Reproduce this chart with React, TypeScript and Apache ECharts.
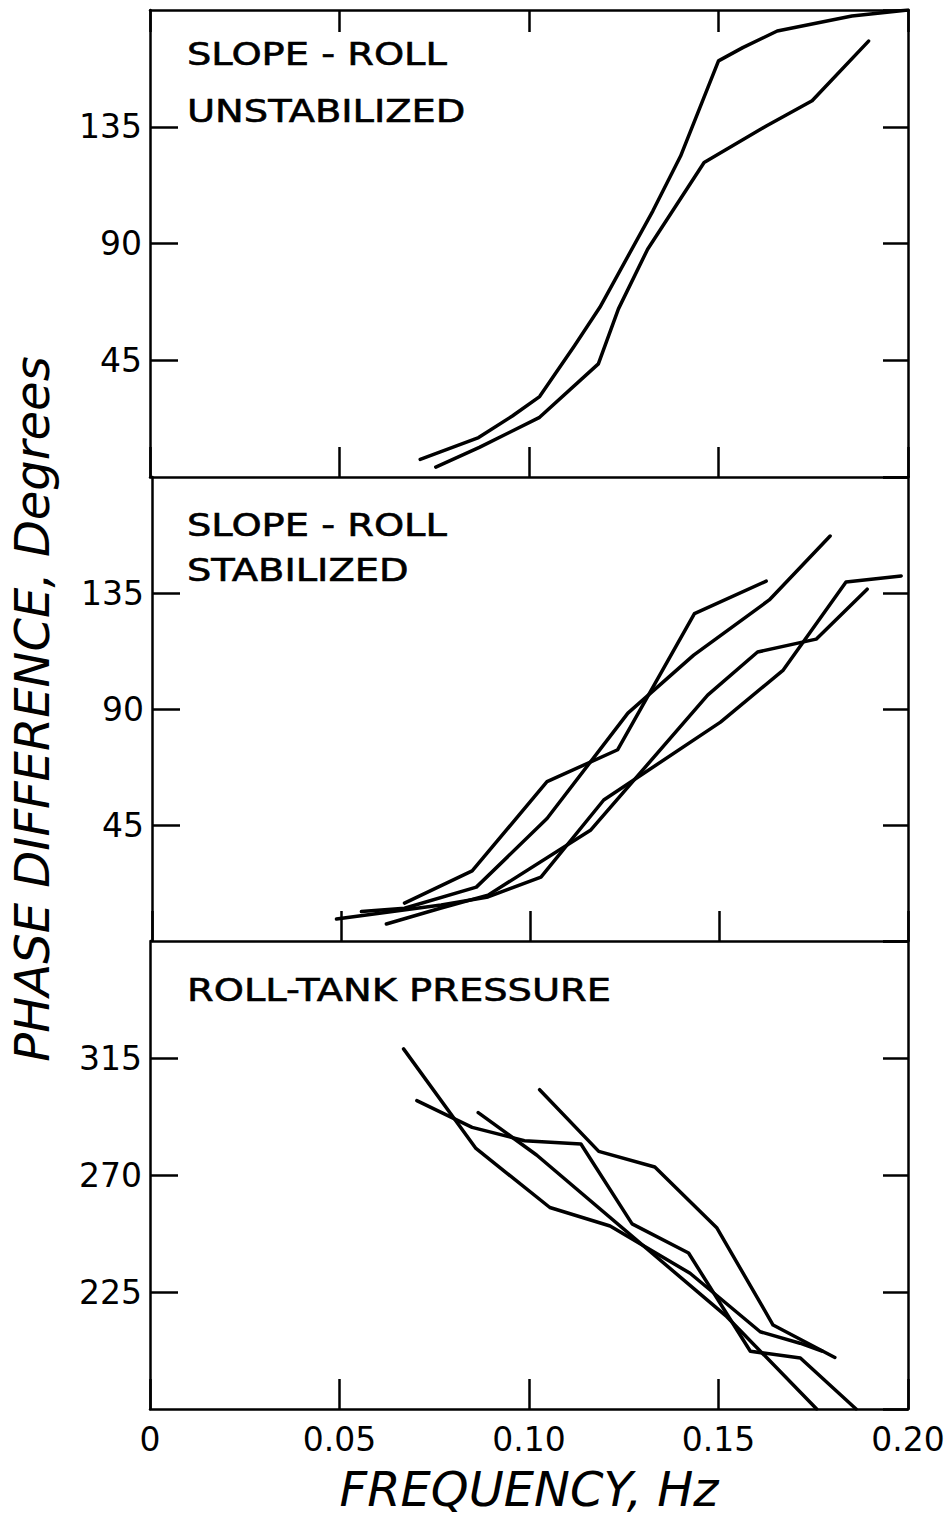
import React, { useEffect, useRef } from 'react';
import * as echarts from 'echarts';

// ---- data (frequency Hz, phase difference degrees) ----
const freqTicks = [0, 0.05, 0.1, 0.15, 0.2];
const degTicksUpper = [45, 90, 135];
const degTicksLower = [225, 270, 315];

// Panel 1: slope-roll, unstabilized
const unstabA = [
  [0.0713, 6.8], [0.0867, 15.2], [0.0956, 23.5], [0.1028, 31.0], [0.112, 50.6],
  [0.1187, 65.4], [0.1327, 102.6], [0.14, 123.7], [0.15, 160.4], [0.1564, 165.5],
  [0.1655, 171.9], [0.1852, 177.7], [0.2, 180],
];
const unstabB = [
  [0.0754, 3.8], [0.0869, 11.4], [0.1028, 23.0], [0.1183, 43.6], [0.1236, 64.8],
  [0.1313, 87.8], [0.1462, 121.2], [0.1626, 135.3], [0.1747, 145.0], [0.1896, 168.0],
];

// Panel 2: slope-roll, stabilized
const stabA = [
  [0.0668, 14.7], [0.0847, 27.2], [0.1045, 61.8], [0.1232, 74.2], [0.1435, 127.0], [0.1625, 139.6],
];
const stabB = [
  [0.0554, 11.4], [0.0668, 12.7], [0.0858, 20.9], [0.1045, 47.5], [0.1259, 88.4],
  [0.1433, 110.9], [0.1633, 132.3], [0.1794, 157.1],
];
const stabC = [
  [0.0488, 8.5], [0.0765, 14.0], [0.0889, 17.1], [0.1029, 24.8], [0.1195, 54.7],
  [0.1504, 84.9], [0.167, 105.1], [0.1836, 139.3], [0.1982, 141.6],
];
const stabD = [
  [0.062, 6.6], [0.0765, 12.8], [0.0889, 17.8], [0.1161, 43.1], [0.147, 95.4],
  [0.1602, 112.1], [0.1757, 117.1], [0.1892, 136.5],
];

// Panel 3: roll-tank pressure
const tankA = [
  [0.0669, 318.5], [0.086, 280.2], [0.1055, 257.5], [0.1214, 250.4], [0.1425, 232.2],
  [0.161, 209.7], [0.1715, 205.3], [0.1773, 202.3],
];
const tankB = [
  [0.0704, 298.6], [0.085, 288.3], [0.0988, 283.2], [0.1137, 281.9], [0.1272, 251.2],
  [0.1421, 240.0], [0.1584, 202.2], [0.1716, 199.6], [0.1863, 180],
];
const tankC = [
  [0.0866, 294.0], [0.102, 277.7], [0.1522, 215.5], [0.1759, 180],
];
const tankD = [
  [0.1028, 302.8], [0.1184, 279.1], [0.1332, 273.1], [0.1496, 249.6], [0.1644, 212.3], [0.1807, 199.8],
];

const panelTitles = [
  ['SLOPE - ROLL', 'UNSTABILIZED'],
  ['SLOPE - ROLL', 'STABILIZED'],
  ['ROLL-TANK PRESSURE'],
];
const xTitle = 'FREQUENCY, Hz';
const yTitle = 'PHASE DIFFERENCE, Degrees';

const FONT = 'DejaVu Sans';
const INK = '#000';

export default function App() {
  const ref = useRef<HTMLDivElement>(null);

  useEffect(() => {
    document.body.style.margin = '0';
    const chart = echarts.init(ref.current as HTMLDivElement, null, { renderer: 'svg' });

    const panels = [
      { top: 10, height: 467, min: 0, max: 180, ticks: degTicksUpper, data: [unstabA, unstabB] },
      { top: 477, height: 464, min: 0, max: 180, ticks: degTicksUpper, data: [stabA, stabB, stabC, stabD] },
      { top: 941, height: 468, min: 180, max: 360, ticks: degTicksLower, data: [tankA, tankB, tankC, tankD] },
    ];

    const lineStyle = { color: INK, width: 2.5 };
    const grid: any[] = [];
    const xAxis: any[] = [];
    const yAxis: any[] = [];
    const series: any[] = [];

    panels.forEach((p, i) => {
      grid.push({ left: 150, width: 758, top: p.top, height: p.height, containLabel: false });
      const isLast = i === panels.length - 1;
      xAxis.push({
        gridIndex: i, type: 'value', position: 'bottom',
        min: freqTicks[0], max: freqTicks[freqTicks.length - 1], interval: 0.05,
        axisLine: { show: true, onZero: false, lineStyle },
        axisTick: { show: true, inside: true, length: 30, lineStyle },
        splitLine: { show: false },
        axisLabel: {
          show: isLast, margin: 14, fontSize: 33, fontFamily: FONT, color: INK,
          formatter: (v: number) => (v === 0 ? '0' : v.toFixed(2)),
        },
        name: isLast ? xTitle : '',
        nameLocation: 'middle', nameGap: 56,
        nameTextStyle: { fontSize: 48, lineHeight: 48, fontStyle: 'italic', fontFamily: FONT, color: INK },
      });
      if (i === 0) {
        xAxis.push({
          gridIndex: i, type: 'value', position: 'top',
          min: freqTicks[0], max: freqTicks[freqTicks.length - 1], interval: 0.05,
          axisLine: { show: true, onZero: false, lineStyle },
          axisTick: { show: true, inside: true, length: 22, lineStyle },
          splitLine: { show: false }, axisLabel: { show: false },
        });
      }
      const leftIdx = yAxis.length;
      yAxis.push({
        gridIndex: i, type: 'value', position: 'left', min: p.min, max: p.max, interval: 45,
        axisLine: { show: true, onZero: false, lineStyle },
        axisTick: { show: true, inside: true, length: 28, lineStyle },
        splitLine: { show: false },
        axisLabel: {
          show: true, margin: 8, fontSize: 33, fontFamily: FONT, color: INK,
          showMinLabel: false, showMaxLabel: false,
          formatter: (v: number) => (p.ticks.indexOf(v) >= 0 ? String(v) : ''),
        },
        name: i === 1 ? yTitle : '',
        nameLocation: 'middle', nameRotate: 90, nameGap: 96,
        nameTextStyle: { fontSize: 48, lineHeight: 48, fontStyle: 'italic', fontFamily: FONT, color: INK },
      });
      yAxis.push({
        gridIndex: i, type: 'value', position: 'right', min: p.min, max: p.max, interval: 45,
        axisLine: { show: true, onZero: false, lineStyle },
        axisTick: { show: true, inside: true, length: 25, lineStyle },
        splitLine: { show: false }, axisLabel: { show: false },
      });
      const xIdx = i === 0 ? 0 : i + 1;
      p.data.forEach((d) => {
        series.push({
          type: 'line', xAxisIndex: xIdx, yAxisIndex: leftIdx, data: d,
          symbol: 'none', smooth: false, silent: true,
          lineStyle: { color: INK, width: 3.5, join: 'round', cap: 'round' },
        });
      });
    });

    const titleY = [[54, 111], [525, 570], [990]];
    const graphic: any[] = [];
    panelTitles.forEach((lines, i) => {
      lines.forEach((t, j) => {
        graphic.push({
          type: 'text', x: 187, y: titleY[i][j], scaleX: 1.2,
          style: {
            text: t, x: 0, y: 0, align: 'left', verticalAlign: 'middle',
            fontSize: 32, fontWeight: 'normal', fontFamily: FONT, fill: INK,
            stroke: INK, lineWidth: 0.6,
          },
        });
      });
    });

    chart.setOption({
      animation: false,
      backgroundColor: '#fff',
      grid, xAxis, yAxis, series, graphic,
    });
    return () => chart.dispose();
  }, []);

  return <div ref={ref} style={{ width: 952, height: 1517 }} />;
}
